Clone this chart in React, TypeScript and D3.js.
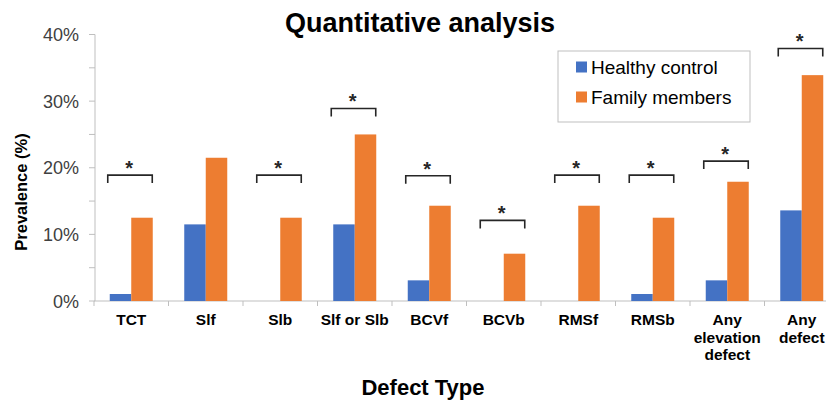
import React from "react";
import * as d3 from "d3";

const categories: string[][] = [
  ["TCT"],
  ["Slf"],
  ["Slb"],
  ["Slf or Slb"],
  ["BCVf"],
  ["BCVb"],
  ["RMSf"],
  ["RMSb"],
  ["Any", "elevation", "defect"],
  ["Any", "defect"],
];
const healthyControl = [1.05, 11.5, 0, 11.5, 3.1, 0, 0, 1.05, 3.1, 13.6];
const familyMembers = [12.5, 21.5, 12.5, 25.0, 14.3, 7.1, 14.3, 12.5, 17.9, 33.9];
// significance bracket levels (in % units); null = no bracket
const bracketLevel: (number | null)[] = [18.9, null, 18.9, 28.9, 18.8, 12.1, 18.9, 18.9, 21.0, 37.9];
const yTicks = [0, 10, 20, 30, 40];
const yMinorTicks = [5, 15, 25, 35];
const seriesNames = ["Healthy control", "Family members"];
const seriesColors = ["#4472C4", "#ED7D31"];

const W = 826;
const H = 402;
const FONT = "'Liberation Sans', Arial, Helvetica, sans-serif";

export default function App() {
  const keys = categories.map((c) => c.join(" "));
  const x = d3.scaleBand<string>().domain(keys).range([94, 94 + 74.5 * keys.length]).padding(0);
  const y = d3.scaleLinear().domain([0, 40]).range([301, 34.5]);
  const barW = 21.5;
  const axisColor = "#bfbfbf";

  return (
    <div style={{ position: "absolute", left: 0, top: 0 }}>
      <svg width={W} height={H} style={{ display: "block", fontFamily: FONT }}>
        <rect x={0} y={0} width={W} height={H} fill="#fff" />
        {/* title */}
        <text x={420} y={32} textAnchor="middle" fontSize={27} fontWeight="bold" fill="#000">
          Quantitative analysis
        </text>
        {/* y axis */}
        <line x1={95} x2={95} y1={y(40)} y2={y(0)} stroke={axisColor} strokeWidth={1} />
        {[...yTicks, ...yMinorTicks].map((t) => (
          <line key={"yt" + t} x1={89} x2={95} y1={y(t)} y2={y(t)} stroke={axisColor} strokeWidth={1} />
        ))}
        {yTicks.map((t) => (
          <text key={"yl" + t} x={79} y={y(t) + 6.5} textAnchor="end" fontSize={18} fill="#404040">
            {t + "%"}
          </text>
        ))}
        <text
          transform={`translate(27,192) rotate(-90)`}
          textAnchor="middle"
          fontSize={16.5}
          fontWeight="bold"
          fill="#000"
        >
          Prevalence (%)
        </text>
        {/* x axis */}
        <line x1={94} x2={W} y1={y(0)} y2={y(0)} stroke={axisColor} strokeWidth={1} />
        {keys.map((k) => (
          <line
            key={"xt" + k}
            x1={x(k)!}
            x2={x(k)!}
            y1={y(0)}
            y2={y(0) + 5}
            stroke={axisColor}
            strokeWidth={1}
          />
        ))}
        {/* bars */}
        {keys.map((k, i) => {
          const cx = x(k)! + x.bandwidth() / 2;
          return (
            <g key={"b" + k}>
              {healthyControl[i] > 0 && (
                <rect
                  x={cx - barW}
                  y={y(healthyControl[i])}
                  width={barW}
                  height={y(0) - y(healthyControl[i])}
                  fill={seriesColors[0]}
                />
              )}
              <rect
                x={cx}
                y={y(familyMembers[i])}
                width={barW}
                height={y(0) - y(familyMembers[i])}
                fill={seriesColors[1]}
              />
            </g>
          );
        })}
        {/* brackets */}
        {keys.map((k, i) => {
          const lv = bracketLevel[i];
          if (lv == null) return null;
          const cx = x(k)! + x.bandwidth() / 2;
          const by = y(lv);
          const x1 = cx - 23.5;
          const x2 = cx + 21;
          return (
            <g key={"br" + k}>
              <path
                d={`M${x1},${by + 8}V${by}H${x2}V${by + 8}`}
                fill="none"
                stroke="#262626"
                strokeWidth={1.6}
              />
              <text x={cx - 2} y={by + 0} textAnchor="middle" fontSize={20} fontWeight="bold" fill="#262626">
                *
              </text>
            </g>
          );
        })}
        {/* x tick labels */}
        {categories.map((lines, i) => {
          const cx = x(keys[i])! + x.bandwidth() / 2;
          return (
            <text key={"xl" + i} textAnchor="middle" fontSize={15.5} fontWeight="bold" fill="#000">
              {lines.map((ln, j) => (
                <tspan key={j} x={cx} y={325 + j * 17.5}>
                  {ln}
                </tspan>
              ))}
            </text>
          );
        })}
        <text x={423} y={395} textAnchor="middle" fontSize={22} fontWeight="bold" fill="#000">
          Defect Type
        </text>
        {/* legend */}
        <rect x={558} y={51} width={192} height={71} fill="#fff" stroke="#bfbfbf" strokeWidth={1} />
        {seriesNames.map((s, i) => (
          <g key={"lg" + s}>
            <rect x={576} y={61.5 + i * 30} width={11} height={11} fill={seriesColors[i]} />
            <text x={591} y={73.5 + i * 30} fontSize={19} fill="#000">
              {s}
            </text>
          </g>
        ))}
      </svg>
    </div>
  );
}
